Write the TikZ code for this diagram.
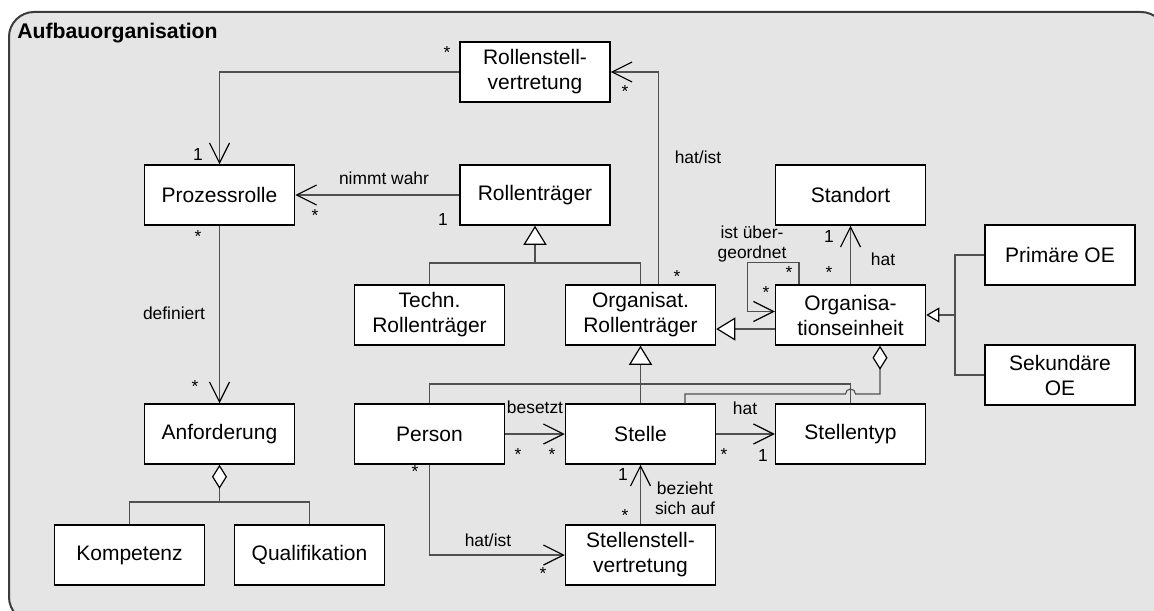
\documentclass[tikz,border=0pt]{standalone}
\usepackage{fontspec}
\setmainfont{Liberation Sans}
\usetikzlibrary{arrows.meta}

\definecolor{rahmenfill}{HTML}{E5E5E5}
\definecolor{rahmenrand}{HTML}{3C3C3C}
\definecolor{linie}{HTML}{505050}

\tikzset{
  klasse/.style={draw=black, fill=white, line width=0.75pt, minimum width=75pt,
    minimum height=30pt, inner sep=0pt, align=center,
    font=\fontsize{10.5pt}{12.5pt}\selectfont},
  verb/.style={draw=linie, line width=0.55pt},
  pfeil/.style={verb, -{Straight Barb[length=10pt, width=10pt, color=black, line width=0.6pt]}},
  erbt/.style={verb, -{Triangle[length=9.5pt, width=11.5pt, color=black, fill=white, line width=0.6pt]}},
  erbtklein/.style={verb, -{Triangle[length=6.5pt, width=7.5pt, color=black, fill=white, line width=0.6pt]}},
  raute/.style={verb, {Diamond[length=12pt, width=7.5pt, color=black, fill=white, line width=0.6pt]}-},
  mult/.style={inner sep=0pt, align=center, font=\fontsize{8.7pt}{10pt}\selectfont},
}

\begin{document}
\begin{tikzpicture}[x=0.5pt, y=-0.5pt]
  \useasboundingbox (0,0) rectangle (1154,610);
  \clip (0,0) rectangle (1154,610);
  \fill[white] (0,0) rectangle (1154,610);

  % Rahmen
  \draw[fill=rahmenfill, draw=rahmenrand, line width=1pt, rounded corners=12.5pt]
    (9,12) rectangle (1166,622);
  \node[anchor=base west, inner sep=0pt, font=\fontsize{10.6pt}{12pt}\selectfont\bfseries]
    (titel) at (17,39) {Aufbauorganisation};

  % Klassen
  \node[klasse] (rsv) at (535,72) {Rollenstell-\\vertretung};
  \node[klasse] (proz) at (219.5,195) {Prozessrolle};
  \node[klasse] (rt) at (535,195) {Rollenträger};
  \node[klasse] (std) at (850.5,195) {Standort};
  \node[klasse] (pri) at (1060,255) {Primäre OE};
  \node[klasse] (techn) at (429.5,315) {Techn.\\Rollenträger};
  \node[klasse] (orgrt) at (640.5,315) {Organisat.\\Rollenträger};
  \node[klasse] (oe) at (850.5,315) {Organisa-\\tionseinheit};
  \node[klasse] (sek) at (1060,375) {Sekundäre\\OE};
  \node[klasse] (anf) at (219.5,434) {Anforderung};
  \node[klasse] (person) at (429.5,434) {Person};
  \node[klasse] (stelle) at (640.5,434) {Stelle};
  \node[klasse] (styp) at (850.5,434) {Stellentyp};
  \node[klasse] (komp) at (129.5,555) {Kompetenz};
  \node[klasse] (qual) at (309.5,555) {Qualifikation};
  \node[klasse] (ssv) at (640.5,555) {Stellenstell-\\vertretung};

  % Hilfspunkte fuer Verzweigungen
  \coordinate (gab1) at (535,263);
  \coordinate (gab2) at (955,315);
  \coordinate (gab3) at (640.5,384);
  \coordinate (gab4) at (219.5,502);
  \coordinate (oeg) at ([yshift=-7pt]oe.west);
  \coordinate (oes) at ([yshift=1.75pt]oe.west);

  % Assoziationen
  \draw[pfeil] (rsv.west) -| (proz.north);
  \draw[pfeil] ([xshift=9pt]orgrt.north) |- (rsv.east);
  \draw[pfeil] (rt.west) -- (proz.east);
  \draw[pfeil] (proz.south) -- (anf.north);
  \draw[pfeil] ([xshift=-25.75pt]oe.north) -- ++(0,-22) -| ([xshift=-13.5pt]oes) -- (oes);
  \draw[pfeil] (oe.north) -- (std.south);
  \draw[pfeil] (person.east) -- (stelle.west);
  \draw[pfeil] (stelle.east) -- (styp.west);
  \draw[pfeil] (ssv.north) -- (stelle.south);
  \draw[pfeil] (person.south) |- (ssv.west);

  % Generalisierungen
  \draw[verb] (techn.north) |- (gab1) -| (orgrt.north);
  \draw[erbt] (gab1) -- (rt.south);
  \draw[erbt] (oeg) -- (oeg -| orgrt.east);
  \draw[verb] (pri.west) -| (gab2) |- (sek.west);
  \draw[erbtklein] (gab2) -- (oe.east);
  \draw[verb] (person.north) |- (gab3) -| (styp.north);
  \draw[verb] (stelle.north) -- (gab3);
  \draw[erbt] (gab3) -- (orgrt.south);

  % Aggregationen
  \draw[raute] ([xshift=14.75pt]oe.south) |- (855.5,394)
    arc[start angle=0, end angle=180, radius=2.5pt] -- (685,394) -- ([xshift=22.25pt]stelle.north);
  \draw[raute] (anf.south) -- (gab4);
  \draw[verb] (komp.north) |- (gab4) -| (qual.north);

  % Beschriftungen
  \node[mult] (m1) at (447,53) {*};
  \node[mult] (m2) at (198,155) {1};
  \node[mult] (m3) at (625,92) {*};
  \node[mult] (m4) at (677,277) {*};
  \node[mult] (l1) at (698,157) {hat/ist};
  \node[mult] (l2) at (384,178) {nimmt wahr};
  \node[mult] (m5) at (315,216) {*};
  \node[mult] (m6) at (443,220) {1};
  \node[mult] (m7) at (198,237) {*};
  \node[mult] (m8) at (195,387) {*};
  \node[mult] (l3) at (174,313) {definiert};
  \node[mult] (l4) at (752,244) {ist über-\\geordnet};
  \node[mult] (m9) at (789,273) {*};
  \node[mult] (m10) at (766,293) {*};
  \node[mult] (m11) at (829,237) {1};
  \node[mult] (m12) at (829,273) {*};
  \node[mult] (l5) at (883,259) {hat};
  \node[mult] (l6) at (535,407) {besetzt};
  \node[mult] (m13) at (518,455) {*};
  \node[mult] (m14) at (552,455) {*};
  \node[mult] (l7) at (745,408) {hat};
  \node[mult] (m15) at (724,455) {*};
  \node[mult] (m16) at (763,456) {1};
  \node[mult] (m17) at (623,475) {1};
  \node[mult] (m18) at (625,516) {*};
  \node[mult] (l8) at (685,498) {bezieht\\sich auf};
  \node[mult] (m19) at (415,472) {*};
  \node[mult] (l9) at (488,540) {hat/ist};
  \node[mult] (m20) at (543,574) {*};
\end{tikzpicture}
\end{document}
